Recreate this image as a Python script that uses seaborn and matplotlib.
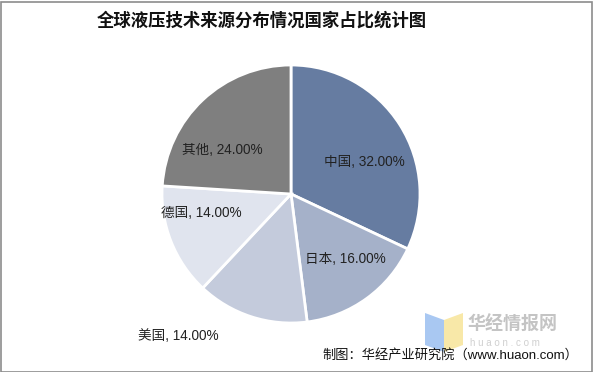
import matplotlib
matplotlib.use("Agg")
import matplotlib.pyplot as plt
import seaborn as sns
from matplotlib.patches import Rectangle, Polygon

categories = ["中国", "日本", "美国", "德国", "其他"]
shares = [32.00, 16.00, 14.00, 14.00, 24.00]
colors = ["#667ca1", "#a5b1c9", "#c4cbdc", "#e0e4ee", "#7f7f7f"]
title = "全球液压技术来源分布情况国家占比统计图"
source = "制图：华经产业研究院（www.huaon.com）"

sns.set_theme(style="white")
plt.rcParams['font.family'] = ['Liberation Sans', 'Noto Sans CJK SC', 'DejaVu Sans']
FAM = ['Liberation Sans', 'Noto Sans CJK SC', 'DejaVu Sans']

W, H = 593, 372
fig = plt.figure(figsize=(W / 100, H / 100), dpi=100)
ax = fig.add_axes([0, 0, 1, 1])
ax.set_xlim(0, W)
ax.set_ylim(0, H)
ax.set_aspect('equal')
ax.axis('off')

cx, cy, r = 291, H - 194, 129
wedges, _ = ax.pie(shares, colors=colors, startangle=90, counterclock=False,
                   center=(cx, cy), radius=r,
                   wedgeprops=dict(edgecolor='white', linewidth=2))
ax.set_xlim(0, W)
ax.set_ylim(0, H)

label_pos = [(364, 162), (345, 259), (178, 336), (201, 213), (222, 150)]
for cat, val, (lx, ly) in zip(categories, shares, label_pos):
    ax.text(lx, H - ly, f"{cat}, {val:.2f}%", ha='center', va='center',
            fontsize=9.8, color='#222222', family=FAM)

# title
ax.text(W / 2 - 35, H - 21, title, ha='center', va='center', fontsize=12.5,
        fontweight='bold', color='#111111', family=['Noto Sans CJK SC'])

# watermark logo
ax.add_patch(Polygon([(425, H - 313), (444, H - 320), (444, H - 352), (425, H - 345)],
                     closed=True, facecolor='#a9c8f2', edgecolor='none'))
ax.add_patch(Polygon([(444, H - 320), (463, H - 313), (463, H - 345), (444, H - 352)],
                     closed=True, facecolor='#f8e8a8', edgecolor='none'))
ax.text(468, H - 324, "华经情报网", ha='left', va='center', fontsize=13,
        fontweight='bold', color='#c4c4c4', family=['Noto Sans CJK SC'])
ax.text(470, H - 343, "h u a o n . c o m", ha='left', va='center', fontsize=7,
        color='#d0d0d0', family=FAM)

# source
ax.text(578, H - 355, source, ha='right', va='center', fontsize=9.5,
        color='#111111', family=FAM)

# border
fig.patches.append(Rectangle((0.5 / W, 0.5 / H), 1 - 2 / W, 1 - 2 / H,
                             transform=fig.transFigure, fill=False,
                             edgecolor='#8c8c8c', linewidth=1.2))

fig.savefig("out.png", dpi=100)
